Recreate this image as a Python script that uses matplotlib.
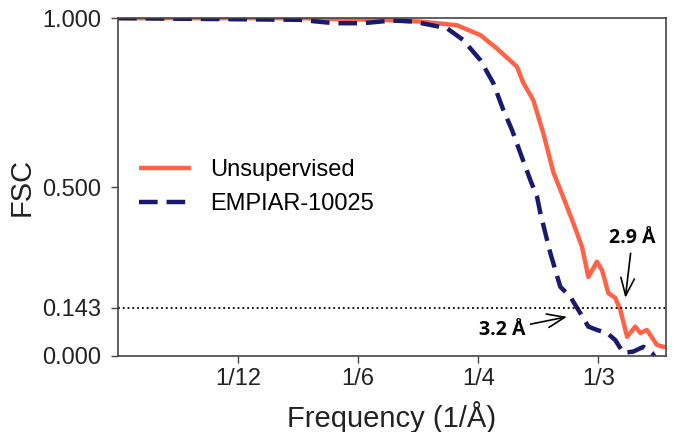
import matplotlib
matplotlib.use("Agg")
import matplotlib.pyplot as plt

#%% data (frequency in 1/A, FSC)
freq_unsup = [0.0, 0.126, 0.1819, 0.2097, 0.2352, 0.2514, 0.263, 0.2769, 0.2813, 0.2882,
              0.2951, 0.3021, 0.309, 0.316, 0.322, 0.3264, 0.3324, 0.3359, 0.3403, 0.3451,
              0.3486, 0.3533, 0.359, 0.3625, 0.3671, 0.374, 0.3785, 0.38]
fsc_unsup = [1.0, 1.0, 0.995, 0.99, 0.979, 0.950, 0.910, 0.856, 0.808, 0.757,
             0.660, 0.544, 0.470, 0.393, 0.323, 0.234, 0.279, 0.254, 0.186, 0.172,
             0.136, 0.057, 0.087, 0.068, 0.077, 0.033, 0.027, 0.027]

freq_empiar = [0.0, 0.126, 0.15, 0.17, 0.19, 0.2049, 0.2283, 0.2396, 0.2514, 0.2604,
               0.2674, 0.2734, 0.2792, 0.2861, 0.2908, 0.2931, 0.3, 0.3069, 0.3139, 0.3208,
               0.3264, 0.3324, 0.3394, 0.3451, 0.3507, 0.3576, 0.3646, 0.3706, 0.3741, 0.3799]
fsc_empiar = [1.0, 0.995, 0.985, 0.985, 0.993, 0.99, 0.970, 0.935, 0.876, 0.808,
              0.728, 0.669, 0.601, 0.521, 0.471, 0.423, 0.305, 0.205, 0.175, 0.127,
              0.087, 0.077, 0.068, 0.047, 0.009, 0.013, 0.027, 0.009, -0.012, -0.03]

x_ticks = [1/12, 1/6, 1/4, 1/3]
x_ticklabels = ['1/12', '1/6', '1/4', '1/3']
y_ticks = [0.0, 0.143, 0.5, 1.0]
y_ticklabels = ['0.000', '0.143', '0.500', '1.000']

#%% fonts
plt.rcParams['font.family'] = ['Liberation Sans', 'DejaVu Sans']

#%% plot
fig = plt.figure(figsize=[6.75, 4.32], dpi=100)
ax = fig.add_axes([0.175, 0.176, 0.811, 0.782])

ax.plot(freq_unsup, fsc_unsup, color='#ff6347', linewidth=3.2, label='Unsupervised',
        solid_capstyle='butt')
ax.plot(freq_empiar, fsc_empiar, color='#191970', linewidth=3.2, linestyle=(0, (4.2, 2.0)),
        label='EMPIAR-10025')
ax.axhline(0.143, color='black', linestyle=':', linewidth=1.3)

ax.set_xlim(0, 0.38)
ax.set_ylim(0, 1)
ax.set_xticks(x_ticks)
ax.set_xticklabels(x_ticklabels, fontsize=17, color='#222222')
ax.set_yticks(y_ticks)
ax.set_yticklabels(y_ticklabels, fontsize=17, color='#222222')
ax.tick_params(direction='out', length=5, width=1, color='#444444')
ax.tick_params(axis='y', pad=7)
for sp in ax.spines.values():
    sp.set_color('#444444')
    sp.set_linewidth(1.2)

ax.set_xlabel('Frequency (1/Å)', fontsize=21, color='#222222', labelpad=8)
ax.set_ylabel('FSC', fontsize=21, color='#222222', labelpad=5)

ax.legend(loc='center left', bbox_to_anchor=(0.0, 0.5), frameon=False, fontsize=17,
          handlelength=2.2, labelspacing=0.5, handletextpad=0.8)

bold = dict(family=['Open Sans', 'DejaVu Sans'], fontweight='bold', fontsize=14)
arrow = dict(arrowstyle='->,head_length=0.9,head_width=0.35', color='black', lw=1.2,
             shrinkA=2, shrinkB=0)
ax.annotate('2.9 Å', xy=(0.3521, 0.172), xytext=(0.357, 0.35), ha='center', va='center',
            arrowprops=arrow, **bold)
ax.annotate('3.2 Å', xy=(0.3116, 0.116), xytext=(0.2664, 0.077), ha='center', va='center',
            arrowprops=arrow, **bold)

fig.savefig('out.png', dpi=100)
